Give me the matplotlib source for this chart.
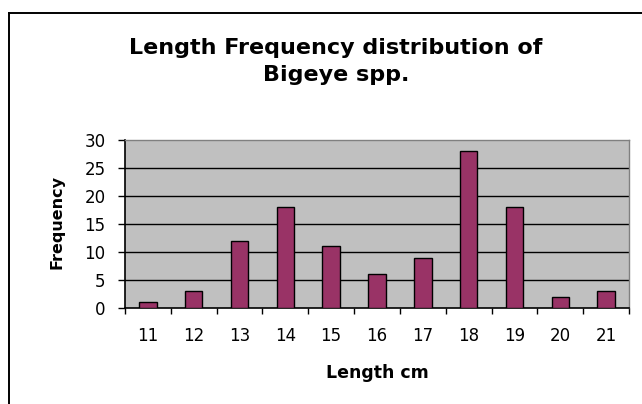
import numpy as np
import matplotlib
matplotlib.use("Agg")
import matplotlib.pyplot as plt
from matplotlib.lines import Line2D

# data
lengths = ["11", "12", "13", "14", "15", "16", "17", "18", "19", "20", "21"]
freq = [1, 3, 12, 18, 11, 6, 9, 28, 18, 2, 3]
yticks = [0, 5, 10, 15, 20, 25, 30]

W, H = 642, 404
fig = plt.figure(figsize=(W / 100, H / 100), dpi=100)
fig.patch.set_facecolor("white")

# outer chart border (only left and top edges are visible)
fig.add_artist(Line2D([8.5 / W, 8.5 / W], [0, 1 - 12.5 / H], transform=fig.transFigure,
                      color="black", lw=1.4))
fig.add_artist(Line2D([8.5 / W, 1], [1 - 12.5 / H, 1 - 12.5 / H], transform=fig.transFigure,
                      color="black", lw=1.4))

ax = fig.add_axes([125 / W, 1 - 308 / H, (629 - 125) / W, (308 - 140) / H])
ax.set_facecolor("#C0C0C0")

x = np.arange(len(lengths))
ax.bar(x, freq, width=0.38, color="#993366", edgecolor="black", linewidth=1.0, zorder=3)

ax.set_xlim(-0.5, len(lengths) - 0.5)
ax.set_ylim(0, 30)

# gridlines
for v in yticks[1:-1]:
    ax.axhline(v, color="black", lw=1.0, zorder=1)

ax.set_yticks(yticks)
ax.set_yticklabels([str(v) for v in yticks], fontsize=12)
ax.tick_params(axis="y", direction="out", length=5, width=1, pad=9)

# ticks at category boundaries, labels at the centres
ax.set_xticks(np.arange(-0.5, len(lengths), 1.0))
ax.set_xticklabels([])
ax.set_xticks(x, minor=True)
ax.set_xticklabels(lengths, minor=True, fontsize=12)
ax.tick_params(axis="x", which="major", direction="out", length=4, width=1)
ax.tick_params(axis="x", which="minor", length=0, pad=14)

for s in ["left", "bottom"]:
    ax.spines[s].set_color("black")
    ax.spines[s].set_linewidth(1.2)
for s in ["top", "right"]:
    ax.spines[s].set_color("#808080")
    ax.spines[s].set_linewidth(1.0)

fig.text(336 / W, 1 - 48 / H, "Length Frequency distribution of", ha="center", va="center",
         fontsize=16, fontweight="bold")
fig.text(336 / W, 1 - 75 / H, "Bigeye spp.", ha="center", va="center",
         fontsize=16, fontweight="bold")
fig.text(377 / W, 1 - 373 / H, "Length cm", ha="center", va="center",
         fontsize=12.5, fontweight="bold")
fig.text(57 / W, 1 - 222 / H, "Frequency", ha="center", va="center", rotation=90,
         fontsize=11.5, fontweight="bold")

plt.savefig("out.png", dpi=100)
plt.close()
